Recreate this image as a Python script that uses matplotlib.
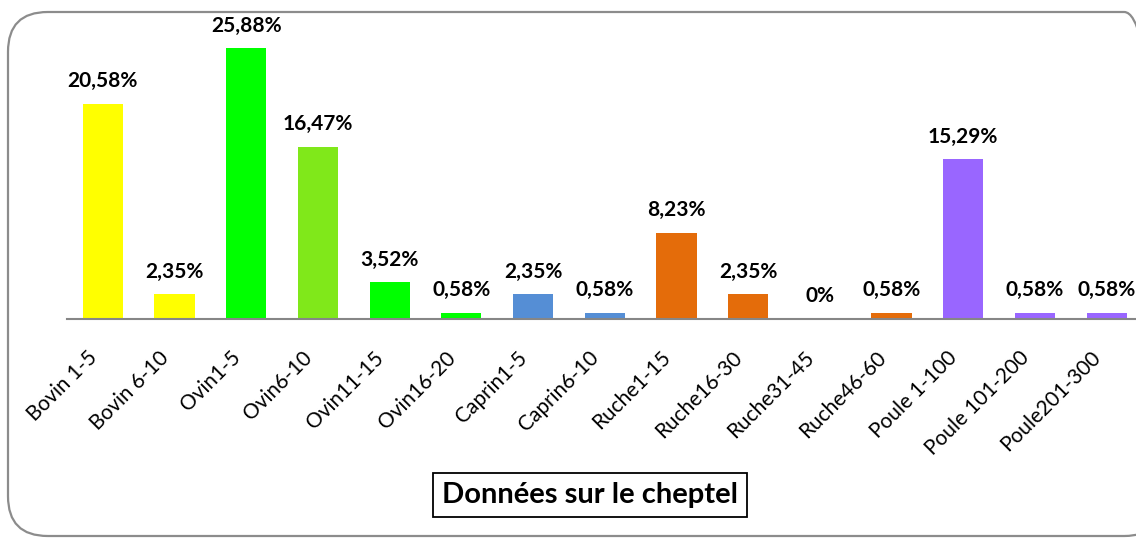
import matplotlib
matplotlib.use("Agg")
import matplotlib.pyplot as plt
from matplotlib.patches import FancyBboxPatch
from matplotlib.transforms import ScaledTranslation

categories = ["Bovin 1-5", "Bovin 6-10", "Ovin1-5", "Ovin6-10", "Ovin11-15", "Ovin16-20",
              "Caprin1-5", "Caprin6-10", "Ruche1-15", "Ruche16-30", "Ruche31-45", "Ruche46-60",
              "Poule 1-100", "Poule 101-200", "Poule201-300"]
values = [20.58, 2.35, 25.88, 16.47, 3.52, 0.58, 2.35, 0.58, 8.23, 2.35, 0.0, 0.58, 15.29, 0.58, 0.58]
labels = ["20,58%", "2,35%", "25,88%", "16,47%", "3,52%", "0,58%", "2,35%", "0,58%",
          "8,23%", "2,35%", "0%", "0,58%", "15,29%", "0,58%", "0,58%"]
colors = ["#FFFF00", "#FFFF00", "#00FF00", "#80E81A", "#00FF00", "#00FF00",
          "#558ED5", "#558ED5", "#E46C0A", "#E46C0A", "#E46C0A", "#E46C0A",
          "#9966FF", "#9966FF", "#9966FF"]
title = "Données sur le cheptel"

plt.rcParams['font.family'] = ['Lato', 'DejaVu Sans']

W, H = 1136, 538
fig = plt.figure(figsize=(W / 100, H / 100), dpi=100)

# rounded frame
frame = FancyBboxPatch((8 / W, 2 / H), (W + 20) / W, (H - 14) / H,
                       boxstyle="round,pad=0,rounding_size=0.035",
                       transform=fig.transFigure, fill=False, edgecolor="#8c8c8c",
                       linewidth=1.6, mutation_aspect=W / H)
fig.patches.append(frame)

x0 = 67 / W
x1 = (67 + 71.7 * 15) / W
ybot = 1 - 319 / H
ytop = 1 - 26 / H
ax = fig.add_axes([x0, ybot, x1 - x0, ytop - ybot])
ax.set_facecolor("none")

xs = list(range(len(categories)))
ax.bar(xs, values, width=0.56, color=colors)
ax.set_xlim(-0.5, len(categories) - 0.5)
ax.set_ylim(0, 28)
for x, v, lab in zip(xs, values, labels):
    ax.annotate(lab, (x, v), xytext=(0, 9), textcoords="offset points",
                ha="center", va="bottom", fontsize=15, fontweight="bold")

for s in ["top", "right", "left"]:
    ax.spines[s].set_visible(False)
ax.spines["bottom"].set_color("#868686")
ax.spines["bottom"].set_linewidth(1.5)
ax.set_yticks([])
ax.set_xticks(xs)
ax.set_xticklabels(categories, rotation=45, ha="right", rotation_mode="anchor", fontsize=15)
ax.tick_params(axis="x", length=0, pad=14)
shift = ScaledTranslation(-16 / 100, -9 / 100, fig.dpi_scale_trans)
for t in ax.get_xticklabels():
    t.set_transform(t.get_transform() + shift)

fig.text(590 / W, 1 - 495 / H, title, ha="center", va="center", fontsize=21, fontweight="bold",
         bbox=dict(boxstyle="square,pad=0.3", facecolor="white", edgecolor="black", linewidth=1.3))

fig.savefig("out.png", dpi=100)
